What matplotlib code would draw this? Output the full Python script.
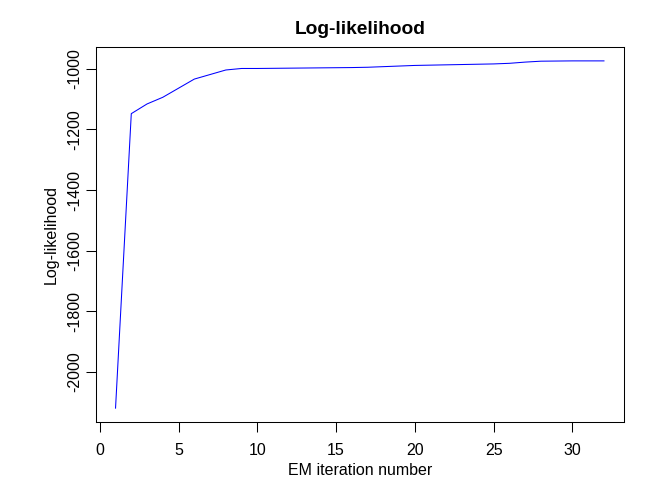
import matplotlib
matplotlib.use("Agg")
import matplotlib.pyplot as plt
import numpy as np

iterations = list(range(1, 33))
loglik = [-2119, -1148, -1116, -1094, -1064, -1034, -1019, -1004, -999, -999,
          -998.5, -998, -997.5, -997, -996.5, -996, -995, -993, -991, -989,
          -988, -987, -986, -985, -984, -982, -978, -975, -974.5, -974, -974, -974]
x_ticks = [0, 5, 10, 15, 20, 25, 30]
y_ticks = [-2000, -1800, -1600, -1400, -1200, -1000]

plt.rcParams['font.family'] = ['Liberation Sans', 'DejaVu Sans']

fig = plt.figure(figsize=(6.72, 4.8), dpi=100)
ax = fig.add_axes([96/672, 1-422/480, (623.5-96)/672, (422-47)/480])

ax.plot(iterations, loglik, color='#0000FF', linewidth=0.75)

xr = max(iterations) - min(iterations)
yr = max(loglik) - min(loglik)
ax.set_xlim(min(iterations) - 0.04*xr, max(iterations) + 0.04*xr)
ax.set_ylim(min(loglik) - 0.04*yr, max(loglik) + 0.04*yr)

ax.set_xticks(x_ticks)
ax.set_xticklabels([str(t) for t in x_ticks])
ax.set_yticks(y_ticks)
ax.set_yticklabels([str(t) for t in y_ticks], rotation=90, va='center')

for s in ax.spines.values():
    s.set_linewidth(0.75)
    s.set_color('black')

ax.tick_params(axis='both', direction='out', length=6.9, width=0.75, labelsize=11.5, color='black')
ax.tick_params(axis='x', pad=8)
ax.tick_params(axis='y', pad=3)

ax.set_title('Log-likelihood', fontsize=13.8, fontweight='bold', pad=9)
ax.set_xlabel('EM iteration number', fontsize=11.5, labelpad=4)
ax.set_ylabel('Log-likelihood', fontsize=11.5, labelpad=6)

fig.savefig('out.png', dpi=100)
